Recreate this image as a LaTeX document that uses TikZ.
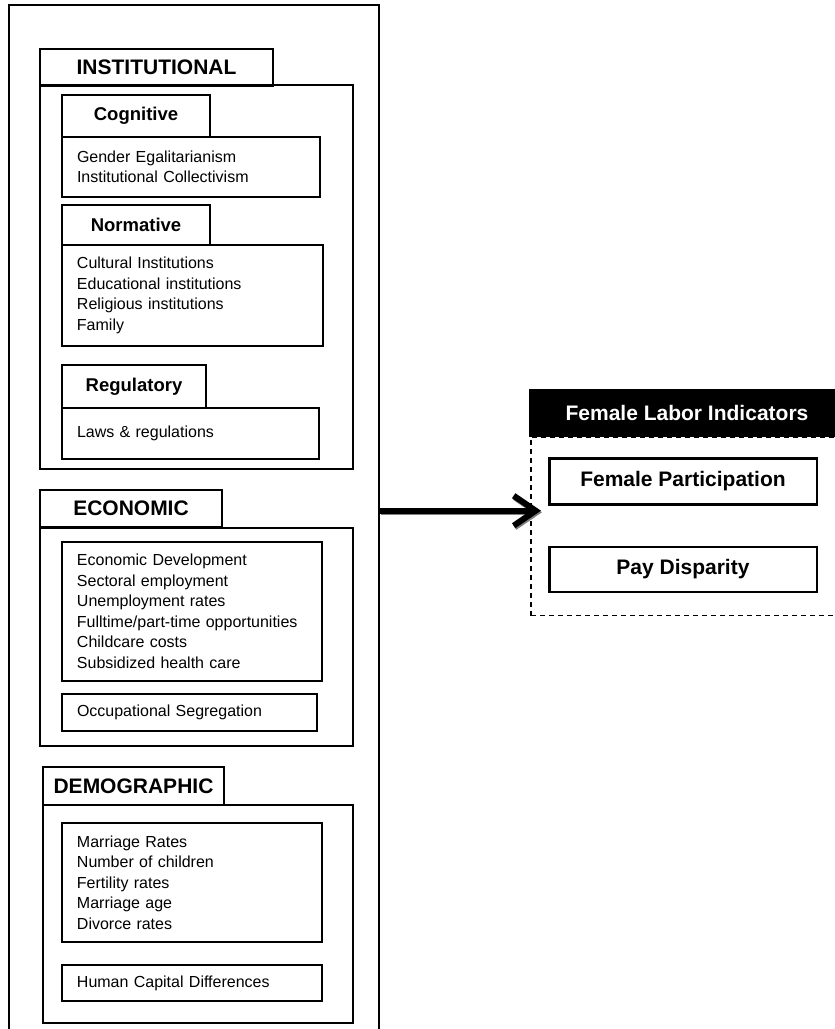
\documentclass[tikz,border=0pt]{standalone}
\usepackage{fontspec}
\setmainfont{Liberation Sans}
\usepackage{tikz}
\usetikzlibrary{arrows.meta,positioning}
\tikzset{tab/.style={draw,line width=1.8pt,inner sep=0pt,font=\bfseries\fontsize{21}{25}\selectfont},
         subtab/.style={draw,line width=1.8pt,inner sep=0pt,font=\bfseries\fontsize{18.5}{22}\selectfont},
         grp/.style={draw,line width=1.8pt,inner sep=0pt},
         lst/.style={draw,line width=1.8pt,align=left,inner xsep=15pt,inner ysep=0pt,font=\fontsize{16}{20.6}\selectfont},
         ind/.style={draw,line width=2.4pt,inner sep=0pt,font=\bfseries\fontsize{21}{25}\selectfont}}

\begin{document}
\begin{tikzpicture}[x=1pt,y=-1pt]
    \useasboundingbox (0,0) rectangle (835,1029);
    \node[draw,line width=2.6pt,minimum width=370pt,minimum height=1040pt] (outer) at (194,525) {};

    % institutional
    \node[grp,minimum width=313pt,minimum height=384pt] (instbox) at (196.5,277.3) {};
    \node[tab,minimum width=233pt,minimum height=37.3pt] (inst) at (156.5,67.3) {INSTITUTIONAL};
    \node[subtab,minimum width=148pt,minimum height=41.7pt] (cog) at (136,115.9) {Cognitive};
    \node[lst,text width=228pt,minimum height=60pt] (cogl) at (191,166.7) {Gender Egalitarianism\\Institutional Collectivism};
    \node[subtab,minimum width=148pt,minimum height=40pt] (norm) at (136,225) {Normative};
    \node[lst,text width=230.7pt,minimum height=100.7pt] (norml) at (192.3,295.3) {Cultural Institutions\\Educational institutions\\Religious institutions\\Family};
    \node[subtab,minimum width=144pt,minimum height=43.3pt] (reg) at (134,386.6) {Regulatory};
    \node[lst,text width=227pt,minimum height=51pt] (regl) at (190.5,433.8) {Laws \& regulations};

    % economic
    \node[grp,minimum width=313pt,minimum height=218pt] (econbox) at (196.5,637) {};
    \node[tab,minimum width=182pt,minimum height=37.3pt] (econ) at (131,508.6) {ECONOMIC};
    \node[lst,text width=229.7pt,minimum height=139pt] (econl) at (191.8,611.2) {Economic Development\\Sectoral employment\\Unemployment rates\\Fulltime/part-time opportunities\\Childcare costs\\Subsidized health care};
    \node[lst,text width=225pt,minimum height=36.7pt] (occ) at (189.5,712.3) {Occupational Segregation};

    % demographic
    \node[grp,minimum width=310.3pt,minimum height=218.3pt] (demobox) at (197.8,914.1) {};
    \node[tab,minimum width=181.6pt,minimum height=37.7pt] (demo) at (133.5,786.1) {DEMOGRAPHIC};
    \node[lst,text width=229.7pt,minimum height=118.4pt] (demol) at (191.8,882.5) {Marriage Rates\\Number of children\\Fertility rates\\Marriage age\\Divorce rates};
    \node[lst,text width=229.7pt,minimum height=36pt] (hum) at (191.8,983) {Human Capital Differences};

    % indicators
    \node[draw,dashed,dash pattern=on 5pt off 4pt,line width=1.5pt,minimum width=314pt,minimum height=178.7pt] (fli) at (688,526.3) {};
    \node[fill=black,text=white,font=\bfseries\fontsize{21}{25}\selectfont,minimum width=316pt,minimum height=47.4pt,inner sep=0pt] (flhead) at (687,413) {Female Labor Indicators};
    \node[ind,minimum width=267.4pt,minimum height=46pt] (fpart) at (683,481.3) {Female Participation};
    \node[ind,minimum width=267.4pt,minimum height=45pt] (pay) at (683,569.2) {Pay Disparity};

    \coordinate (tip) at (541,510.7);
    \draw [gray,line width=6pt,-{Straight Barb[length=22pt,width=30pt]},transform canvas={xshift=1pt,yshift=-1.6pt}] (outer.east |- tip) -- (tip);
    \draw [line width=6pt,-{Straight Barb[length=22pt,width=30pt]}] (outer.east |- tip) -- (tip);
\end{tikzpicture}
\end{document}
